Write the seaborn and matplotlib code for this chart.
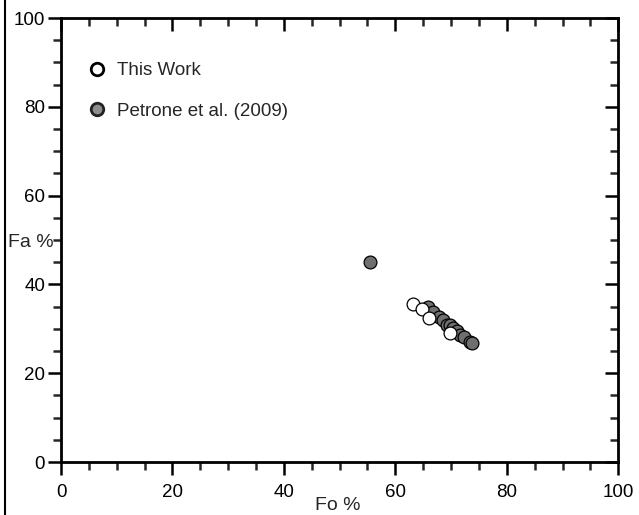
import matplotlib
matplotlib.use("Agg")
import matplotlib.pyplot as plt
from matplotlib.lines import Line2D
from matplotlib.ticker import MultipleLocator
import pandas as pd
import seaborn as sns

# olivine compositions
this_work_fo = [63.1, 64.8, 66.1, 69.8]
this_work_fa = [35.6, 34.4, 32.4, 29.0]

petrone_fo = [55.5, 65.9, 66.8, 67.9, 68.6, 69.3, 69.8, 70.4, 71.0, 71.6, 72.4, 73.4, 73.8]
petrone_fa = [45.0, 34.9, 33.9, 32.7, 32.1, 30.9, 30.8, 30.2, 29.6, 28.6, 28.2, 27.0, 26.8]

labels = ["This Work", "Petrone et al. (2009)"]

sns.set_style("ticks")
plt.rcParams['font.family'] = ['Liberation Sans', 'DejaVu Sans']

fig = plt.figure(figsize=(6.39, 5.15), dpi=100)
ax = fig.add_axes([0.0955, 0.1029, 0.872, 0.862])

petrone = pd.DataFrame({"Fo": petrone_fo, "Fa": petrone_fa})
this_work = pd.DataFrame({"Fo": this_work_fo, "Fa": this_work_fa})

sns.scatterplot(data=petrone, x="Fo", y="Fa", color="#6f6f6f", edgecolor="black",
                linewidth=0.9, s=85, ax=ax, zorder=3)
sns.scatterplot(data=this_work, x="Fo", y="Fa", color="white", edgecolor="black",
                linewidth=0.9, s=85, ax=ax, zorder=4)

ax.set_xlim(0, 100)
ax.set_ylim(0, 100)
ax.xaxis.set_major_locator(MultipleLocator(20))
ax.xaxis.set_minor_locator(MultipleLocator(5))
ax.yaxis.set_major_locator(MultipleLocator(20))
ax.yaxis.set_minor_locator(MultipleLocator(5))

for s in ax.spines.values():
    s.set_linewidth(2.0)
    s.set_color("black")

ax.tick_params(which="major", length=9.5, width=1.8, labelsize=13.5, colors="black")
ax.tick_params(axis="x", which="major", pad=6)
ax.tick_params(axis="y", which="major", pad=2)
ax.tick_params(which="minor", length=5.5, width=1.8)
ax.tick_params(which="both", top=True, right=True, labeltop=False, labelright=False)
# top/right ticks point inward, bottom/left outward
for t in ax.xaxis.get_major_ticks() + ax.xaxis.get_minor_ticks():
    t.tick2line.set_marker(matplotlib.lines.TICKDOWN)
for t in ax.yaxis.get_major_ticks() + ax.yaxis.get_minor_ticks():
    t.tick2line.set_marker(matplotlib.lines.TICKLEFT)

ax.set_xlabel("Fo %", fontsize=14, va="top", ha="center")
ax.set_ylabel("Fa %", fontsize=14, rotation=0, ha="center", va="center")
ax.xaxis.set_label_coords(0.497, -0.078)
ax.yaxis.set_label_coords(-0.055, 0.495)

handles = [
    Line2D([], [], marker="o", linestyle="", markersize=9, markerfacecolor="white",
           markeredgecolor="black", markeredgewidth=2.0),
    Line2D([], [], marker="o", linestyle="", markersize=9, markerfacecolor="#8e8e8e",
           markeredgecolor="#222222", markeredgewidth=2.0),
]
ax.legend(handles, labels, loc="upper left", bbox_to_anchor=(0.035, 0.918), frameon=False,
          fontsize=13.5, labelspacing=1.27, handletextpad=0.55, handlelength=1.0,
          borderaxespad=0)

fig.add_artist(Line2D([5 / 639, 5 / 639], [0, 1], transform=fig.transFigure,
                      color="black", linewidth=1.5))

fig.savefig("out.png", dpi=100)
